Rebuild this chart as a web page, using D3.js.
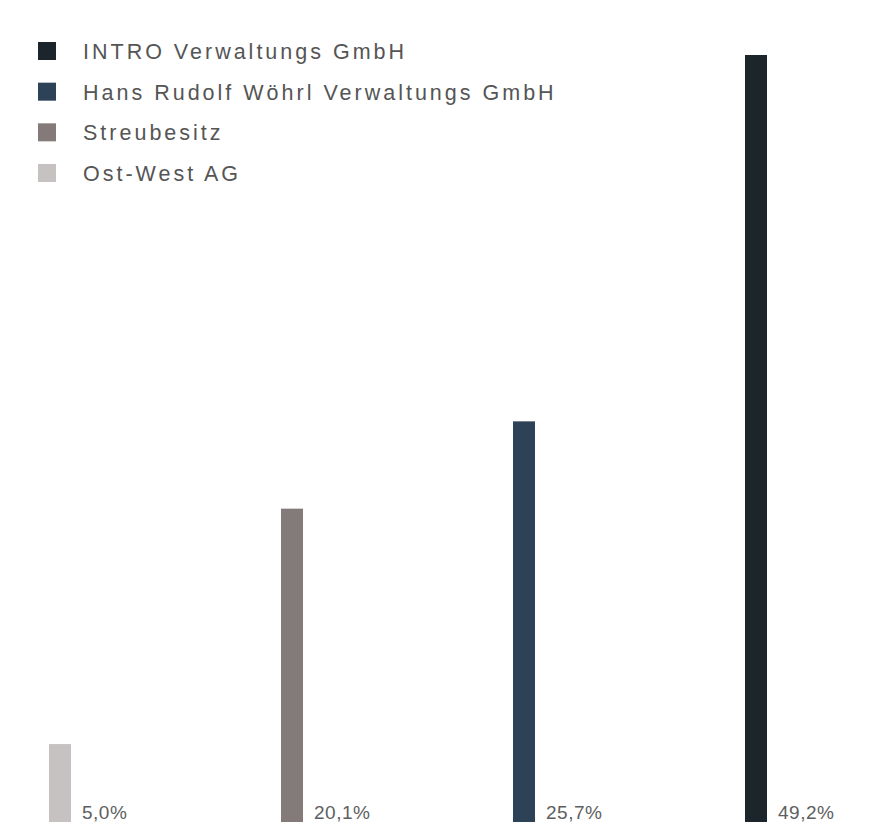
<!DOCTYPE html>
<html>
<head>
<meta charset="utf-8">
<script src="https://cdn.jsdelivr.net/npm/d3@7"></script>
<style>
  body { margin: 0; background: #fff; }
  text { font-family: "Liberation Sans", Arial, sans-serif; }
</style>
</head>
<body>
<svg width="886" height="825"></svg>
<script>
// shareholders, left to right
var owners = ['Ost-West AG', 'Streubesitz', 'Hans Rudolf Wöhrl Verwaltungs GmbH', 'INTRO Verwaltungs GmbH'];
var shares = [5.0, 20.1, 25.7, 49.2];
var shareLabels = ['5,0%', '20,1%', '25,7%', '49,2%'];
var colors = ['#c6c2c2', '#857a7a', '#2d4256', '#1c242c'];
// legend lists them top-down in reverse
var legendOrder = ['INTRO Verwaltungs GmbH', 'Hans Rudolf Wöhrl Verwaltungs GmbH', 'Streubesitz', 'Ost-West AG'];

function main() {
	var svg = d3.select('svg');
	var barW = 22;

	var x = d3.scalePoint().domain(owners).range([60, 756]);
	var y = d3.scaleLinear().domain([0, 49.2]).range([822, 55]);
	var color = d3.scaleOrdinal().domain(owners).range(colors);

	var data = owners.map(function(o, i) {
		return { name: o, value: shares[i], label: shareLabels[i] };
	});

	var bar = svg.selectAll('.bar')
		.data(data)
		.enter().append('g')
		.attr('class', 'bar');

	bar.append('rect')
		.attr('x', function(d) { return x(d.name) - barW / 2; })
		.attr('y', function(d) { return y(d.value); })
		.attr('width', barW)
		.attr('height', function(d) { return y(0) - y(d.value); })
		.attr('fill', function(d) { return color(d.name); });

	bar.append('text')
		.attr('x', function(d) { return x(d.name) + barW / 2 + 11; })
		.attr('y', 819)
		.attr('font-size', 19)
		.attr('letter-spacing', 0.5)
		.attr('fill', '#5e5e5e')
		.text(function(d) { return d.label; });

	// legend
	var ly = d3.scalePoint().domain(legendOrder).range([51, 173]);
	var leg = svg.selectAll('.legend')
		.data(legendOrder)
		.enter().append('g')
		.attr('class', 'legend')
		.attr('transform', function(d) { return 'translate(38,' + ly(d) + ')'; });

	leg.append('rect')
		.attr('x', 0)
		.attr('y', -9)
		.attr('width', 18)
		.attr('height', 18)
		.attr('fill', function(d) { return color(d); });

	leg.append('text')
		.attr('x', 45)
		.attr('y', 8)
		.attr('font-size', 21.5)
		.attr('letter-spacing', 3)
		.attr('fill', '#555')
		.text(function(d) { return d; });
}
main();
</script>
</body>
</html>
